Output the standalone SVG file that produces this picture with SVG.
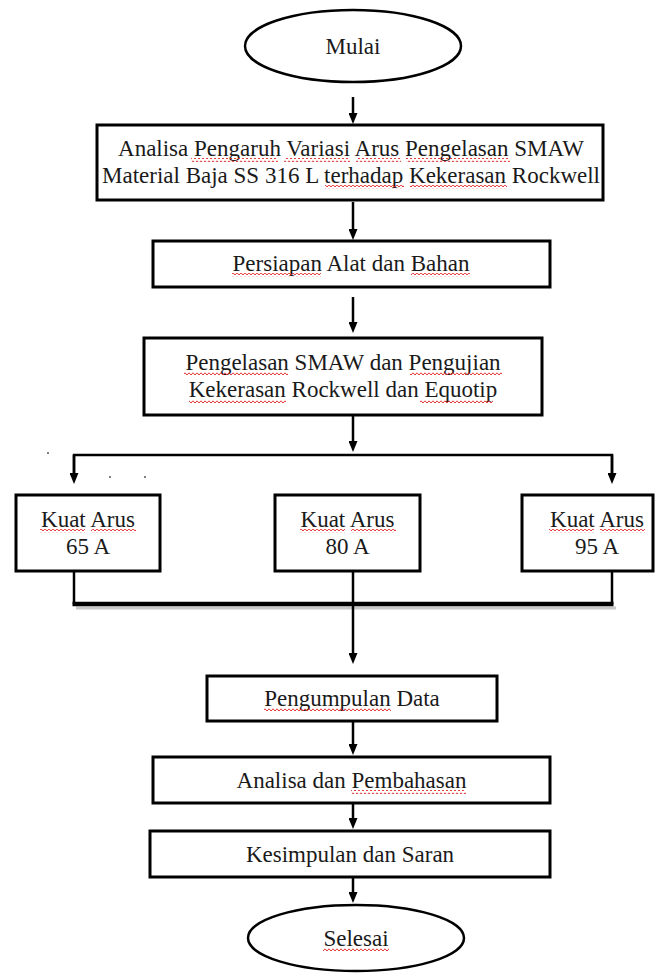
<svg xmlns="http://www.w3.org/2000/svg" width="657" height="974" viewBox="0 0 657 974">
<style>
.box{fill:#fff;stroke:#000;stroke-width:3}
.term{fill:#fff;stroke:#000;stroke-width:2.5}
.t{font-family:"Liberation Serif","Times New Roman",serif;font-size:23px;fill:#1a1a1a;text-anchor:middle}
.c{fill:none;stroke:#000;stroke-width:2.5}
.sq{fill:url(#sq)}
</style>
<defs>
<marker id="ah" viewBox="0 0 11 9" refX="3" refY="4.5" markerWidth="11" markerHeight="9" markerUnits="userSpaceOnUse" orient="auto">
<path d="M0,0 L11,4.5 L0,9 z" fill="#000"/>
</marker>
<pattern id="sq" patternUnits="userSpaceOnUse" width="4" height="4">
<path d="M-1,3 L1,0.8 L3,3 L5,0.8" fill="none" stroke="#e02020" stroke-width="0.9"/>
</pattern>
</defs>
<rect width="657" height="974" fill="#fff"/>

<g id="connectors">
<line class="c" x1="353" y1="97" x2="353" y2="116" marker-end="url(#ah)"/>
<line class="c" x1="353" y1="202" x2="353" y2="232" marker-end="url(#ah)"/>
<line class="c" x1="353" y1="297" x2="353" y2="325" marker-end="url(#ah)"/>
<line class="c" x1="353" y1="416" x2="353" y2="444" marker-end="url(#ah)"/>
<polyline class="c" points="74,476 74,455 612,455 612,476"/>
<line class="c" x1="74" y1="455" x2="74" y2="476" marker-end="url(#ah)"/>
<line class="c" x1="612" y1="455" x2="612" y2="476" marker-end="url(#ah)"/>
<line x1="76" y1="608" x2="616" y2="608" stroke="#c8c8c8" stroke-width="3"/>
<line class="c" x1="74" y1="571" x2="74" y2="604"/>
<line class="c" x1="612" y1="571" x2="612" y2="604"/>
<line x1="72.5" y1="604" x2="613.5" y2="604" stroke="#000" stroke-width="4.5"/>
<line class="c" x1="353" y1="571" x2="353" y2="656" marker-end="url(#ah)"/>
<line class="c" x1="353" y1="722" x2="353" y2="747" marker-end="url(#ah)"/>
<line class="c" x1="353" y1="804" x2="353" y2="821" marker-end="url(#ah)"/>
<line class="c" x1="353" y1="878" x2="353" y2="895" marker-end="url(#ah)"/>
<circle cx="48" cy="453" r="0.9" fill="#444"/>
<circle cx="110" cy="477" r="0.9" fill="#444"/>
<circle cx="145" cy="477" r="0.9" fill="#444"/>
</g>

<g id="mulai">
<ellipse class="term" cx="353" cy="46" rx="108" ry="36"/>
<text class="t" x="353" y="54">Mulai</text>
</g>

<g id="analisa-pengaruh">
<rect class="box" x="97" y="125" width="506" height="75"/>
<text class="t" x="351" y="156">Analisa Pengaruh Variasi Arus Pengelasan SMAW</text>
<text class="t" x="351" y="183">Material Baja SS 316 L terhadap Kekerasan Rockwell</text>
<rect class="sq" x="191" y="158" width="87" height="4"/>
<rect class="sq" x="284" y="158" width="66" height="4"/>
<rect class="sq" x="356" y="158" width="45" height="4"/>
<rect class="sq" x="406" y="158" width="104" height="4"/>
<rect class="sq" x="325" y="185" width="79" height="4"/>
<rect class="sq" x="410" y="185" width="97" height="4"/>
</g>

<g id="persiapan">
<rect class="box" x="153" y="241" width="397" height="46"/>
<text class="t" x="351" y="271">Persiapan Alat dan Bahan</text>
<rect class="sq" x="232" y="273" width="89" height="4"/>
<rect class="sq" x="411" y="273" width="59" height="4"/>
</g>

<g id="pengelasan">
<rect class="box" x="144" y="338" width="398" height="77"/>
<text class="t" x="343" y="370">Pengelasan SMAW dan Pengujian</text>
<text class="t" x="343" y="397">Kekerasan Rockwell dan Equotip</text>
<rect class="sq" x="184" y="372" width="104" height="4"/>
<rect class="sq" x="410" y="372" width="92" height="4"/>
<rect class="sq" x="189" y="399" width="97" height="4"/>
<rect class="sq" x="420" y="399" width="73" height="4"/>
</g>

<g id="kuat-65">
<rect class="box" x="16" y="495" width="144" height="76"/>
<text class="t" x="88" y="527">Kuat Arus</text>
<text class="t" x="88" y="554">65 A</text>
<rect class="sq" x="40" y="529" width="45" height="4"/>
<rect class="sq" x="91" y="529" width="45" height="4"/>
</g>

<g id="kuat-80">
<rect class="box" x="275" y="495" width="145" height="76"/>
<text class="t" x="347.5" y="527">Kuat Arus</text>
<text class="t" x="347.5" y="554">80 A</text>
<rect class="sq" x="300" y="529" width="45" height="4"/>
<rect class="sq" x="351" y="529" width="45" height="4"/>
</g>

<g id="kuat-95">
<rect class="box" x="522" y="495" width="131" height="76"/>
<text class="t" x="597" y="527">Kuat Arus</text>
<text class="t" x="597" y="554">95 A</text>
<rect class="sq" x="549" y="529" width="45" height="4"/>
<rect class="sq" x="600" y="529" width="45" height="4"/>
</g>

<g id="pengumpulan">
<rect class="box" x="207" y="676" width="290" height="45"/>
<text class="t" x="352" y="706">Pengumpulan Data</text>
<rect class="sq" x="264" y="708" width="127" height="4"/>
</g>

<g id="analisa-pembahasan">
<rect class="box" x="153" y="757" width="397" height="46"/>
<text class="t" x="351.5" y="788">Analisa dan Pembahasan</text>
<rect class="sq" x="351" y="790" width="115" height="4"/>
</g>

<g id="kesimpulan">
<rect class="box" x="150" y="831" width="400" height="46"/>
<text class="t" x="350" y="862">Kesimpulan dan Saran</text>
</g>

<g id="selesai">
<ellipse class="term" cx="356" cy="938" rx="108" ry="33"/>
<text class="t" x="356" y="946">Selesai</text>
<rect class="sq" x="323" y="948" width="66" height="4"/>
</g>
</svg>
